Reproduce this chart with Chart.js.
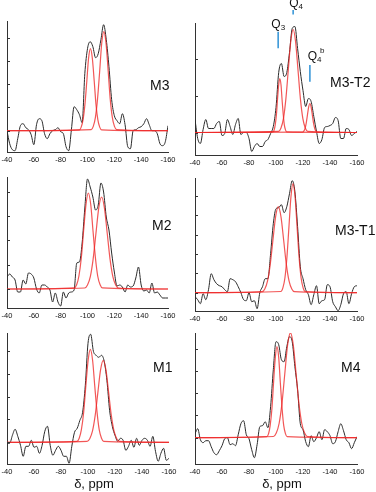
<!DOCTYPE html>
<html><head><meta charset="utf-8">
<script src="https://cdn.jsdelivr.net/npm/chart.js@4.4.0/dist/chart.umd.min.js"></script>
<style>
html,body{margin:0;padding:0;background:#fff;}
body{width:376px;height:492px;position:relative;overflow:hidden;font-family:"Liberation Sans",Arial,sans-serif;}
.pc{position:absolute;}
.lbl{position:absolute;font-size:14px;color:#111;line-height:1;white-space:nowrap;transform:translateY(-50%);}
.axt{position:absolute;font-size:13px;color:#111;white-space:nowrap;transform:translate(-50%,-50%);line-height:1;}
</style></head><body>
<script>
// chemical shift grid (ppm)
const ppm = [-40,-42,-44,-46,-48,-50,-52,-54,-56,-58,-60,-62,-64,-66,-68,-70,-72,-74,-76,-78,-80,-82,-84,-86,-88,-90,-92,-94,-96,-98,-100,-102,-104,-106,-108,-110,-112,-114,-116,-118,-120,-122,-124,-126,-128,-130,-132,-134,-136,-138,-140,-142,-144,-146,-148,-150,-152,-154,-156,-158,-160];
const xTickValues = [-40,-60,-80,-100,-120,-140,-160];
const panelNames = ['M3','M3-T2','M2','M3-T1','M1','M4'];

// measured spectra (arbitrary intensity)
const m3   = [0,-13,-19,-20,-8,5,7,3,1,-4,-14,6,12,10,-3,-8,-3,0,1,3,-1,-3,-16,-20,1,24,21,16,8,57,82,89,84,73,77,91,106,91,64,31,15,10,7,17,6,-16,-18,0,1,3,4,7,12,6,0,0,-3,-13,-15,-11,5];
const m3t2 = [13,-6,-11,3,13,4,4,4,9,11,-3,-1,13,6,-2,8,14,-2,0,0,-6,-19,-14,-11,-14,-14,-9,-7,-1,6,25,60,69,56,60,80,104,106,84,61,42,26,34,31,16,1,-11,-7,5,6,7,9,15,12,-6,-6,4,3,-3,-1,1];
const m2   = [12,15,12,9,-3,-3,9,5,16,15,11,0,-4,4,4,2,-1,-13,-4,-13,-17,-3,-9,-4,-3,-1,26,27,46,81,110,102,92,79,84,106,97,72,59,36,17,3,4,2,-3,4,2,3,11,22,4,-2,-1,-4,6,-4,-3,-6,-9,-9,-9];
const m3t1 = [-4,-7,-11,-1,-7,3,19,13,9,7,6,3,1,14,13,11,6,0,-7,-8,0,-9,-8,-16,0,6,14,14,39,69,84,85,88,80,86,99,112,101,66,26,14,3,-2,-12,-2,7,-11,-8,-7,8,6,-9,-14,-18,-12,-1,1,-11,-1,6,7];
const m1   = [-1,-1,7,13,6,-3,-14,-4,-4,2,-5,-4,-11,-3,11,16,-3,-13,-8,-4,-8,-14,-14,-21,-4,10,14,22,30,57,99,108,91,87,85,87,81,62,32,16,7,1,4,2,-8,-4,2,-5,4,-3,2,4,2,-4,6,-9,-19,-11,-6,-18,-16];
const m4   = [4,9,-2,-5,-3,-3,-9,-15,-17,-13,-8,-1,0,-7,-6,-8,3,14,17,3,-1,-12,-20,-7,11,12,16,10,31,68,96,93,78,76,91,101,96,71,48,14,8,-4,-9,2,-4,0,6,-2,8,6,2,-6,-4,6,14,7,-2,-5,-11,-5,1];

// fitted components (ppm, intensity)
const m3FitAx = [-40,-94.0,-95.3,-96.7,-98.1,-99.5,-100.8,-102.2,-103.6,-105.0,-106.3,-107.7,-109.1,-110.5,-160];
const m3FitAy = [0,0.9,3.6,11.1,26.6,49.7,72.4,82,72.4,49.7,26.6,11.1,3.6,0.9,0];
const m3FitBx = [-40,-102.8,-104.3,-105.9,-107.5,-109.1,-110.6,-112.2,-113.8,-115.4,-116.9,-118.5,-120.1,-121.7,-160];
const m3FitBy = [0,1.1,4.3,13.4,32.1,60.0,87.4,99,87.4,60.0,32.1,13.4,4.3,1.1,0];

const m3t2FitAx = [-40,-97.7,-98.6,-99.4,-100.3,-101.1,-102.0,-102.8,-103.7,-104.5,-105.4,-106.2,-107.1,-107.9,-160];
const m3t2FitAy = [0,0.6,2.4,7.3,17.5,32.8,47.7,54,47.7,32.8,17.5,7.3,2.4,0.6,0];
const m3t2FitBx = [-40,-101.9,-103.7,-105.5,-107.3,-109.1,-110.9,-112.7,-114.5,-116.3,-118.1,-119.9,-121.7,-123.5,-160];
const m3t2FitBy = [0,1.1,4.5,13.9,33.4,62.5,90.9,103,90.9,62.5,33.4,13.9,4.5,1.1,0];
const m3t2FitCx = [-40,-119.7,-120.6,-121.5,-122.4,-123.3,-124.2,-125.1,-126.0,-126.9,-127.8,-128.7,-129.6,-130.5,-160];
const m3t2FitCy = [0,0.3,1.3,3.9,9.4,17.6,25.6,29,25.6,17.6,9.4,3.9,1.3,0.3,0];

const m2FitAx = [-40,-90.1,-91.9,-93.6,-95.4,-97.1,-98.9,-100.6,-102.4,-104.1,-105.9,-107.6,-109.4,-111.1,-160];
const m2FitAy = [0,1.1,4.2,13.0,31.2,58.2,84.7,96,84.7,58.2,31.2,13.0,4.2,1.1,0];
const m2FitBx = [-40,-97.9,-100.0,-102.1,-104.2,-106.3,-108.4,-110.5,-112.6,-114.7,-116.8,-118.9,-121.0,-123.1,-160];
const m2FitBy = [0,1.0,4.0,12.4,29.9,55.8,81.2,92,81.2,55.8,29.9,12.4,4.0,1.0,0];

const m3t1FitAx = [-40,-89.7,-91.7,-93.7,-95.7,-97.7,-99.7,-101.7,-103.7,-105.7,-107.7,-109.7,-111.7,-113.7,-160];
const m3t1FitAy = [0,1.0,3.8,11.6,27.9,52.2,75.9,86,75.9,52.2,27.9,11.6,3.8,1.0,0];
const m3t1FitBx = [-40,-103.6,-105.1,-106.6,-108.1,-109.6,-111.1,-112.6,-114.1,-115.6,-117.1,-118.6,-120.1,-121.6,-160];
const m3t1FitBy = [0,1.2,4.8,14.7,35.4,66.1,96.2,109,96.2,66.1,35.4,14.7,4.8,1.2,0];

const m1FitAx = [-40,-91.8,-93.5,-95.1,-96.8,-98.4,-100.1,-101.7,-103.4,-105.0,-106.7,-108.3,-110.0,-111.6,-160];
const m1FitAy = [0,1.0,4.1,12.6,30.2,56.4,82.1,93,82.1,56.4,30.2,12.6,4.1,1.0,0];
const m1FitBx = [-40,-99.3,-101.3,-103.3,-105.3,-107.3,-109.3,-111.3,-113.3,-115.3,-117.3,-119.3,-121.3,-123.3,-160];
const m1FitBy = [0,0.9,3.6,11.1,26.6,49.7,72.4,82,72.4,49.7,26.6,11.1,3.6,0.9,0];

const m4FitAx = [-40,-93.2,-94.5,-95.7,-97.0,-98.2,-99.5,-100.7,-102.0,-103.2,-104.5,-105.7,-107.0,-108.2,-160];
const m4FitAy = [0,1.0,4.0,12.3,29.5,55.2,80.3,91,80.3,55.2,29.5,12.3,4.0,1.0,0];
const m4FitBx = [-40,-98.1,-100.2,-102.3,-104.4,-106.5,-108.6,-110.7,-112.8,-114.9,-117.0,-119.1,-121.2,-123.3,-160];
const m4FitBy = [0,1.2,4.6,14.2,34.1,63.7,92.7,105,92.7,63.7,34.1,14.2,4.6,1.2,0];

// peak assignments for M3-T2
const qNames = ['Q','Q','Q'];
const qSubs = ['3','4','4'];
const qSups = ['','','b'];
const qShift = [-101.6,-112.7,-125.1];

// ---------- layout ----------
const padL = 8, padR = 11, padB = 14;
const panels = [
  {name:panelNames[0], vals:m3,   fits:[[m3FitAx,m3FitAy],[m3FitBx,m3FitBy]], box:[7,21,168,152], yMin:-21.3, yMax:109.7, step:23.3, padT:21, lbl:[150,85]},
  {name:panelNames[1], vals:m3t2, fits:[[m3t2FitAx,m3t2FitAy],[m3t2FitBx,m3t2FitBy],[m3t2FitCx,m3t2FitCy]], box:[195,23,357,155], yMin:-22.5, yMax:109.5, step:37, padT:23, lbl:[330,82], q:true},
  {name:panelNames[2], vals:m2,   fits:[[m2FitAx,m2FitAy],[m2FitBx,m2FitBy]], box:[7,177,168,308], yMin:-19, yMax:112, step:24.3, padT:10, lbl:[152,225]},
  {name:panelNames[3], vals:m3t1, fits:[[m3t1FitAx,m3t1FitAy],[m3t1FitBx,m3t1FitBy]], box:[195,178,357,311], yMin:-18.3, yMax:114.7, step:19.3, padT:10, lbl:[335,230]},
  {name:panelNames[4], vals:m1,   fits:[[m1FitAx,m1FitAy],[m1FitBx,m1FitBy]], box:[7,333,169,464], yMin:-21.7, yMax:109.3, step:22.8, padT:10, lbl:[153,367], xt:true},
  {name:panelNames[5], vals:m4,   fits:[[m4FitAx,m4FitAy],[m4FitBx,m4FitBy]], box:[195,333,357,464], yMin:-26.3, yMax:104.7, step:22.3, padT:10, lbl:[341,367], xt:true}
];

const inTicks = {
  id:'inTicks',
  afterDraw(c){
    const y = c.scales.y, x = c.chartArea.left, ctx = c.ctx;
    ctx.save(); ctx.strokeStyle = '#333'; ctx.lineWidth = 1; ctx.beginPath();
    y.ticks.forEach(t => {
      if (t.value > y.min + 1 && t.value < y.max - 1) {
        const py = Math.round(y.getPixelForValue(t.value)) + 0.5;
        ctx.moveTo(x, py); ctx.lineTo(x + 3, py);
      }
    });
    ctx.stroke(); ctx.restore();
  }
};

const qPlugin = {
  id:'qPlugin',
  afterDraw(c){
    const xs = c.scales.x, ys = c.scales.y, ctx = c.ctx;
    const lines = [[100.8,84.2],[122.5,118.0],[67.5,50.8]];
    const labs = [[-100.0,107.5],[-113.3,129],[-127.0,75.5]];
    ctx.save();
    ctx.strokeStyle = '#3a98d8'; ctx.lineWidth = 1.6;
    qShift.forEach((v,i) => {
      const px = xs.getPixelForValue(v);
      ctx.beginPath();
      ctx.moveTo(px, ys.getPixelForValue(lines[i][0]));
      ctx.lineTo(px, ys.getPixelForValue(lines[i][1]));
      ctx.stroke();
    });
    ctx.fillStyle = '#111'; ctx.textBaseline = 'middle';
    qNames.forEach((n,i) => {
      const px = xs.getPixelForValue(labs[i][0]);
      const py = ys.getPixelForValue(labs[i][1]);
      ctx.font = '12px "Liberation Sans", Arial, sans-serif';
      ctx.textAlign = 'center';
      ctx.fillText(n, px, py);
      const w = ctx.measureText(n).width;
      ctx.font = '8px "Liberation Sans", Arial, sans-serif';
      ctx.textAlign = 'left';
      ctx.fillText(qSubs[i], px + w/2, py + 3);
      if (qSups[i]) ctx.fillText(qSups[i], px + w/2 + 3, py - 6);
    });
    ctx.restore();
  }
};

panels.forEach(p => {
  const [L,T,R,B] = p.box;
  const cv = document.createElement('canvas');
  const W = (R - L) + padL + padR, H = (B - T) + p.padT + padB;
  cv.width = W; cv.height = H;
  cv.className = 'pc';
  cv.style.left = (L - padL) + 'px'; cv.style.top = (T - p.padT) + 'px';
  cv.style.width = W + 'px'; cv.style.height = H + 'px';
  document.body.appendChild(cv);

  const datasets = p.fits.map(f => ({
    data: f[0].map((x,i) => ({x, y: f[1][i]})),
    borderColor: 'rgba(238,40,40,0.78)', borderWidth: 1.2,
    pointRadius: 0, fill: false, cubicInterpolationMode: 'monotone'
  }));
  datasets.push({
    data: ppm.map((x,i) => ({x, y: p.vals[i]})),
    borderColor: '#2b2b2b', borderWidth: 1,
    pointRadius: 0, fill: false, cubicInterpolationMode: 'monotone'
  });

  new Chart(cv, {
    type: 'line',
    data: {datasets},
    options: {
      responsive: false, animation: false, events: [],
      layout: {padding: {top: p.padT, right: padR, left: 0, bottom: 0}},
      plugins: {legend: {display: false}, tooltip: {enabled: false}},
      scales: {
        x: {
          type: 'linear', min: -160, max: -40, reverse: true,
          afterBuildTicks: s => { s.ticks = xTickValues.map(v => ({value: v})); },
          afterFit: s => { s.height = padB; s.paddingLeft = 0; s.paddingRight = 0; },
          grid: {display: false, drawTicks: false},
          border: {display: true, color: '#333', width: 1},
          ticks: {font: {size: 7.5, family: '"Liberation Sans", Arial, sans-serif'}, color: '#111', padding: 3, maxRotation: 0, autoSkip: false}
        },
        y: {
          type: 'linear', min: p.yMin, max: p.yMax,
          afterFit: s => { s.width = padL; },
          grid: {display: false, drawTicks: false},
          border: {display: true, color: '#333', width: 1},
          ticks: {display: false, stepSize: p.step}
        }
      }
    },
    plugins: p.q ? [inTicks, qPlugin] : [inTicks]
  });

  const d = document.createElement('div');
  d.className = 'lbl'; d.textContent = p.name;
  d.style.left = p.lbl[0] + 'px'; d.style.top = p.lbl[1] + 'px';
  document.body.appendChild(d);

  if (p.xt) {
    const t = document.createElement('div');
    t.className = 'axt'; t.textContent = 'δ, ppm';
    t.style.left = ((L + R) / 2 + 6) + 'px'; t.style.top = '483px';
    document.body.appendChild(t);
  }
});
</script>
</body></html>
